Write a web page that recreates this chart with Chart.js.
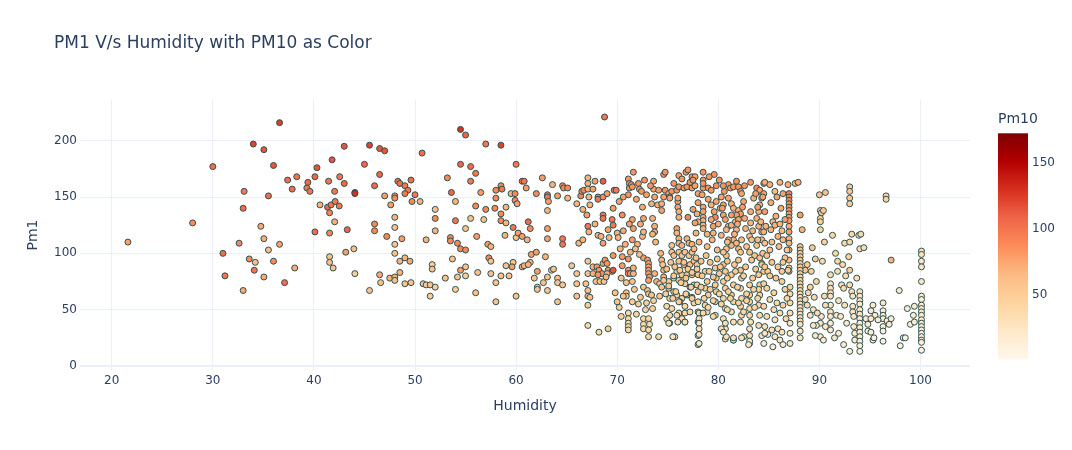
<!DOCTYPE html>
<html>
<head>
<meta charset="utf-8">
<script src="https://cdn.jsdelivr.net/npm/chart.js@4.4.1/dist/chart.umd.min.js"></script>
<style>
html,body{margin:0;padding:0;background:#fff;}
canvas{display:block;}
</style>
</head>
<body>
<canvas id="c" width="1072" height="450"></canvas>
<script>
// ---------------- DATA ----------------
const titleText = "PM1 V/s Humidity with PM10 as Color";
const xTitle = "Humidity";
const yTitle = "Pm1";
const cbTitle = "Pm10";
const xTickValues = [20, 30, 40, 50, 60, 70, 80, 90, 100];
const yTickValues = [0, 50, 100, 150, 200];
const cbTickValues = [50, 100, 150];

// Group A: humidity < 44.5
const humA = [
21.6,28,30,31,31.2,32.6,33,33.1,33,33.6,
34,34.1,34.2,34.75,35.05,35.05,35.05,35.5,35.5,36,
36,36.6,36.6,37.1,37.4,37.85,38.1,38.3,39.3,39.4,
39.6,40.1,40.1,40.3,40.6,41.35,41.45,41.55,41.55,41.55,
41.55,41.7,41.8,41.9,42.05,42.05,42.1,42.5,42.55,43,
43,43.15,43.3,43.95,44.05,44.05,44.05];
const pm1A = [
110,127,177,100,80,109,140,155,67,95,
197,85,92,124,192,113,79,151,103,178,
93,216,108,74,165,157,87,168,158,163,
155,168,119,176,143,141,164,136,118,97,
92,143,183,87,155,128,146,142,168,195,
162,101,121,104,82,154,153];
const pm10A = [
78,88,105,105,100,90,105,98,75,88,
122,100,65,75,115,72,72,105,62,115,
88,125,78,105,105,105,72,102,100,108,
100,108,105,115,70,108,100,92,90,60,
62,100,115,60,100,72,100,100,100,115,
108,80,108,62,50,135,130];

// Group B: humidity 44.5 - 60
const humB = [
45.5,46.5,47,45,46.5,46,48.3,48.5,49,49.6,
49.3,49,47,48,48,50,49.7,50.5,47.6,50.7,
48,48,46,46,47.2,48.7,48,48,49,48.5,
49.5,48.5,46.5,46.6,47.5,48,48,49,49.6,45.5,
51.1,52,52,52,51.7,51.7,50.8,51.1,51.5,52,
51.5,53,53.2,53.6,54,54,53.5,53.5,53.7,54.2,
54.5,55,54.5,54.2,55,55,54,54.5,55,54.5,
55.5,56,55.5,55,55.5,56,56.5,56.8,57,56.1,
57,58.5,57.2,57.5,57.3,57.5,56.2,57.5,58,58.5,
56,58,58,58.5,58.6,58,57.9,58.5,58.5,59,
59,58.9,59.5,59.9,59.9,59.7,60,59,59.3,59.7,
59.6,60,60];
const pm1B = [
196,193,191,179,170,160,164,162,160,165,
156,153,151,151,149,152,146,146,143,189,
132,123,126,120,115,113,108,100,96,93,
93,83,81,74,78,79,76,73,74,67,
112,139,131,120,90,86,73,72,72,70,
62,78,167,154,146,129,114,111,95,109,
104,103,85,79,88,80,68,210,205,179,
177,171,164,122,131,142,154,130,139,115,
197,196,108,106,96,93,83,82,74,80,
65,57,156,160,157,149,140,135,129,141,
127,116,153,153,147,123,114,89,80,92,
88,179,62];
const pm10B = [
122,115,115,108,108,105,105,105,100,105,
100,100,80,90,90,100,90,70,80,105,
70,60,90,90,90,80,60,60,70,70,
75,70,75,60,70,70,60,60,60,60,
70,60,90,70,50,60,60,50,60,50,
50,60,90,108,70,100,90,90,60,90,
90,90,80,60,60,50,50,130,108,108,
105,100,100,60,60,90,80,60,90,80,
100,122,80,70,90,60,60,60,60,60,
60,60,90,90,100,90,90,90,90,70,
70,70,70,90,90,100,60,60,60,60,
80,100,60];

// Group C: humidity 60 - 74.7
const humC = [
68.75,60.6,60.8,61,60.1,62,62.6,63.6,63.1,63.1,
64.1,63.2,63.1,64.6,64.7,65.1,65.1,66,66.4,66.5,
66.7,67.1,67.1,67.1,67.2,67.3,67.6,67.8,68.1,68.1,
68.6,68.6,69,69.7,69.9,69.6,70.2,67,66.6,68.6,
68.6,69.5,69.6,67.8,67.1,67.2,68.1,68.4,68.6,69.1,
69.2,70,70.1,61.2,61.4,60.2,60.6,61.1,63.1,63.1,
64.6,64.6,66.2,66.6,61.5,62,62.9,60.6,60.8,61.4,
61.2,62.1,61.8,62.1,62.1,63.1,62.7,63.1,63.5,63.7,
64.1,64.1,64.6,64.1,65.5,66,66,66,67.1,67.1,
66.9,67.1,67.1,67.1,67.3,67.6,67.6,68,68.2,68.5,
68.1,68.6,68.8,69,69.1,69.5,69.6,69.6,67.9,68.3,
68.7,69,68.9,69.8,70,69.1,68.2,67.1,70.5,70.5,
70.5,71.1,71.1,71.1,71.3,70.9,70.9,70.6,71.1,71.1,
71.1,71.1,71.1,71.5,71.6,71.6,71.5,71.6,71.5,71.1,
71.2,71.2,71.4,71.6,71.5,71.1,72.1,72.2,72.4,72.5,
72.6,72,72.5,72.6,72.6,73,73.1,73.1,73.1,73.1,
73.2,73.1,72.6,73,73.1,73.4,72.1,72.6,72.6,72.6,
73.1,73.2,73.1,73.1,74.1,73.6,73.6,73.7,73.4,74,
73.5,73.7,73.7,73.8,73.5,74.3,74.4,74.6,74.6,74.4,
74.4,73.7,73.9,74.2,74.4,74.6,74.6,73.5];
const pm1C = [
221,164,164,158,144,153,167,161,152,150,
151,146,138,160,158,158,149,144,151,155,
156,167,162,157,150,143,157,164,150,148,
164,150,153,156,156,140,146,134,139,134,
131,130,125,126,124,119,116,115,109,121,
114,118,114,128,122,118,115,112,122,113,
113,108,109,112,99,101,97,88,89,92,
90,84,78,70,68,79,74,67,85,86,
78,74,72,57,89,82,73,62,93,82,
73,67,62,54,61,88,82,88,85,82,
81,91,94,91,85,84,98,85,75,75,
75,82,79,65,57,33,30,36,89,97,
134,95,85,82,82,65,62,62,47,42,
38,35,32,75,82,87,112,122,130,166,
162,158,161,172,159,152,162,157,155,141,
131,108,115,119,96,94,91,88,85,82,
79,76,70,67,64,63,55,42,37,33,
42,37,32,26,26,164,157,150,144,143,
131,124,119,110,117,100,94,170,150,144,
138,82,75,73,70,79,85,51];
const pm10C = [
100,100,100,80,80,90,80,70,100,100,
80,80,70,90,90,90,70,70,90,90,
90,70,70,70,70,70,80,80,100,100,
112,90,80,100,100,80,80,80,70,100,
100,100,100,70,100,70,70,70,80,80,
70,70,70,105,90,80,80,70,80,80,
100,100,70,70,80,80,70,70,70,70,
70,80,60,60,60,60,60,60,60,60,
60,60,60,60,60,60,60,60,60,60,
60,60,60,50,60,70,70,85,85,85,
85,85,85,85,85,85,85,115,60,60,
60,70,70,60,60,50,40,40,80,80,
90,85,85,85,85,60,60,60,40,40,
40,40,40,60,70,70,80,80,80,85,
85,85,85,85,85,85,85,85,85,75,
80,70,70,70,80,80,80,80,80,80,
80,80,60,60,60,60,50,40,40,40,
40,40,40,40,40,78,78,78,72,72,
72,72,72,70,70,70,70,85,78,72,
80,70,70,60,60,70,70,50];

// Group D: humidity 74.7 - 77.7
const humD = [
74.75,76.1,76.8,77,77.4,74.75,75.1,75.4,75.9,76.1,
76.6,76.9,77.4,76,76,76.1,76.1,76,75.2,75.2,
77,75.9,75.9,76.1,76.1,76.4,76.9,77.1,77.4,75.4,
75.4,76.1,76.4,76.7,77.1,77.4,75.6,76.1,76.6,77.2,
77.6,75.9,76.4,76.9,77.4,75.6,75.1,76.1,76.7,77.2,
77.6,75.1,75.6,75.9,76.4,76.9,77.4,75.2,76.2,74.9,
75.4,76.1,76.7,77.6,74.9,75.2,76.4,76.7,75.7,76.7];
const pm1D = [
172,169,172,174,168,156,153,155,156,159,
158,159,158,146,141,137,132,149,150,149,
132,122,118,113,109,107,113,109,108,107,
101,101,98,101,98,101,98,93,90,90,
93,84,81,81,81,78,75,76,73,70,
72,69,66,63,60,63,61,60,57,53,
51,47,53,56,42,38,42,39,26,47];
const pm10D = [
85,78,85,85,85,85,78,85,85,85,
85,85,85,78,78,72,72,78,78,78,
90,80,70,70,70,70,70,70,70,60,
60,60,60,60,60,60,60,60,60,60,
60,55,55,55,55,50,50,50,50,50,
50,45,45,45,45,45,45,45,45,40,
40,40,40,40,35,35,35,35,30,40];

// Group E: humidity 77.7 - 84.6
const humE = [
78.5,78.5,78.5,78.5,79,79.3,77.7,77.7,78,78.4,
78.5,78.5,78.5,78.5,78.5,78.5,79.3,79.7,77.9,78,
77.7,79.5,79.5,80.5,80.5,80.7,81,81.3,81.7,81.8,
81,81.2,81.5,82,82.2,82.3,81,81.3,81.5,82,
82.2,81.8,82,81.5,81,81.3,81.8,82,82.2,80.8,
80.8,80.5,83.1,83.3,83.8,83.1,83.6,84.1,84.3,83.8,
84.1,84.3,84.1,84,83.8,84,84.3,83.5,84.5,82.5,
82.7,77.9,78,77.9,78,78,78,78,78,78.7,
78.9,78.7,79,78.7,78.9,79.7,79.8,79.7,79.8,79.7,
79.7,80.5,80.7,80.5,80.7,80.5,80.7,80.5,80.7,80.7,
81.3,81.5,81.3,81.5,81.3,81.5,81.5,82.2,82.3,82.2,
82.3,82.2,82.3,82.2,83.1,83.1,83.1,83.1,83.1,83.2,
83.1,83.1,83.1,84,84.1,84.1,84,84.1,84,84.3,
84.3,84.5,82.5,81.5,80.8,78,77.2,78.1,78.1,78.1,
78.1,78.1,78.1,75.5,75.2,75.9,76.7,76,75.1,78.5,
79.5,80.7,80.3,80.5,81.5,82.3,83.1,83,
77.2,77.5,79.8,80.1,79.6,80.3,80.6,79,79.8,80.2];
const pm1E = [
172,165,158,162,158,156,168,160,153,152,
141,137,132,129,125,122,143,132,135,128,
127,124,118,143,134,130,124,125,128,121,
161,158,159,159,155,153,149,144,140,138,
135,134,130,112,112,107,109,104,101,104,
98,101,115,112,107,101,98,96,91,158,
155,149,143,137,131,124,119,149,162,146,
122,90,81,72,66,57,48,39,27,84,
75,69,63,54,48,87,78,72,66,57,
45,90,84,75,69,60,51,42,33,24,
81,72,63,57,48,39,23,85,78,69,
60,53,45,39,72,63,57,51,45,39,
33,27,20,81,72,63,54,45,36,27,
90,84,26,23,26,19,48,47,42,38,
33,28,20,26,45,45,39,39,38,47,
44,38,33,30,25,25,22,19,
163,165,160,165,170,150,155,148,146,140];
const pm10E = [
85,85,85,85,85,85,78,78,78,78,
78,78,78,72,72,72,72,90,72,72,
80,80,70,80,80,80,70,70,70,70,
85,85,85,85,85,78,78,72,72,72,
80,80,80,70,70,70,70,70,60,60,
60,60,60,60,60,60,60,60,60,90,
78,78,72,72,72,70,70,72,78,78,
70,55,55,50,50,45,40,40,30,55,
55,50,50,45,40,60,55,50,50,45,
40,60,55,55,50,45,40,35,30,30,
55,50,45,45,40,35,30,60,55,50,
45,40,40,35,50,45,45,40,40,35,
30,30,25,55,50,45,40,40,35,30,
60,55,30,30,30,25,40,40,35,35,
30,30,25,30,40,40,35,35,35,40,
40,35,30,30,30,30,25,25,
85,85,85,85,85,78,85,78,78,72];

// Group F: humidity 84.5 - 94
const humF = [
84.6,85.1,86.1,86.9,87.6,87.9,84.1,84.5,85.6,86.4,
87,87,87,87,87,87,87,87,87,87,
87,87,87,87,87,87,87,85.4,85.6,86.6,
88.1,88.3,85.9,86.8,85.1,86.6,86.9,86.3,88.8,88.6,
84.6,84.5,84.3,84.6,88.1,88.1,88.1,88.1,88.1,88.1,
88.1,88.1,88.1,88.1,88.1,88.1,88.1,88.1,88.1,88.1,
88.1,88.1,88.1,88.1,88.1,88.1,88.1,88.1,88.1,88.1,
87.1,87.1,87.1,87.1,87.1,87.1,87.1,84.5,84.8,85.5,
85.1,85.8,84.5,85.5,86.1,84.8,85.6,84.6,85.3,85.9,
84.9,85.6,86.1,84.6,86.4,85.4,84.5,88.6,88.9,89.1,
89.4,88.8,90,90.6,90.1,90.2,90.1,90.1,90.4,90.1,
91.3,92.5,93,93.2,93.9,92.9,91.8,93,93,93,
93,93,91.1,91.1,91.1,91.1,91.1,91.1,91.1,91.1,
91.1,91.1,92.2,92.4,93,93.2,93.3,93.3,93.3,93.4,
93.4,93.5,93.5,90.2,90.1,90.6,89.7,89.4,90.1,90.4,
91.7,92.1,91.9,92.4,93];
const pm1F = [
163,161,163,161,162,163,156,153,155,153,
153,150,147,144,141,138,135,132,129,124,
119,113,109,103,94,87,84,128,125,130,
134,121,115,103,103,96,85,84,90,85,
137,119,112,109,106,103,100,97,94,91,
88,85,82,79,76,73,70,67,64,61,
58,55,52,49,46,43,40,37,31,25,
70,64,56,47,38,29,20,73,69,65,
59,56,53,50,47,44,41,35,32,33,
28,26,23,29,19,17,20,59,65,45,
50,54,152,154,138,136,131,128,138,121,
116,109,110,117,116,97,93,85,159,155,
149,144,81,73,69,65,62,54,48,44,
38,32,72,69,72,66,62,53,48,44,
35,29,23,44,38,35,36,36,26,23,
45,44,29,19,13];
const pm10F = [
72,72,72,72,72,72,78,78,65,78,
95,95,90,88,88,85,82,82,80,75,
80,70,70,70,65,60,60,70,70,80,
80,70,70,60,60,60,55,55,55,55,
80,70,70,60,60,60,55,55,55,50,
50,50,50,45,45,45,45,40,40,40,
40,35,35,35,30,30,30,30,25,25,
45,40,40,35,30,25,25,50,45,45,
40,40,40,35,35,35,30,30,30,30,
25,25,25,25,20,20,20,35,40,30,
30,35,60,60,55,55,50,50,55,45,
40,40,40,40,40,45,40,50,55,55,
55,50,35,30,30,30,30,25,25,25,
20,20,35,35,35,30,30,25,25,25,
20,20,20,25,25,20,25,25,20,20,
25,25,20,18,15];

// Group G: humidity 93.7 - 100
const humG = [
100.1,100.1,100.1,100.1,100.1,100.1,100.1,100.1,100.1,100.1,
100.1,100.1,100.1,100.1,100.1,100.1,100.1,100.1,100.1,100.1,
96.6,96.6,97.1,94.1,94,94.4,93.7,94,94,94,
94,94,94,94,94,94,94,94,94,94,
94,97.9,95.3,95.1,95.5,96.3,96.3,96.3,96.3,96.3,
96.3,96.3,96.7,96.9,97.1,95.8,94.6,95.1,94.8,94.8,
95.1,95.3,95.4,98,98.3,98.5,98.7,99,99.4,99.4,
99.3];
const pm1G = [
102,99,93,88,75,62,59,54,51,48,
45,41,38,35,32,29,26,23,21,14,
151,148,94,117,104,105,78,66,62,58,
55,50,46,42,38,34,30,26,22,18,
13,67,54,49,45,56,49,45,42,35,
31,22,40,37,42,41,42,42,37,31,
30,23,25,18,25,25,51,37,39,53,
45];
const pm10G = [
30,30,25,25,25,20,20,20,20,20,
20,18,18,18,15,15,15,12,12,10,
45,45,70,40,35,35,30,25,25,25,
20,20,20,18,18,18,15,15,15,12,
10,25,20,20,20,25,20,20,20,18,
15,12,18,18,20,18,18,18,18,15,
15,12,12,10,12,12,20,15,15,20,
18];

// Group H: extra points in the dense band (humidity 70 - 93)
const humH = [
70.3,70.8,71.3,71.8,72.2,70.6,71.2,72.3,70.4,70.9,
71.7,72.3,70.2,71.5,72.8,70.4,71.9,72.9,73.6,74.2,
74.5,74.9,75.3,75.7,76.2,76.6,77,77.4,74.6,75.1,
75.6,76.3,76.8,77.3,74.8,75.5,76.1,76.8,77.4,75.8,
77.8,78.3,78.8,79.2,79.9,80.2,80.9,81.6,82,82.7,
83.3,83.7,77.9,78.4,79.1,79.5,80.1,80.9,81.7,82.5,
83.4,84,78.3,79.2,80.1,81,81.9,82.8,83.5,78.6,
79.5,80.3,81.2,82,82.8,83.6,79,80.9,82.5,83.9,
77.6,78.1,78.9,79.4,79.9,80.3,80.9,81.6,82.3,82.8,
83.4,83.9,77.8,78.9,79.3,80,80.8,81.9,82.6,83.2,
77.5,78,79.6,80.4,81.3,82.4,83.2,83.9,84.2,84.4,
70.6,71.9,72.9,73.3,72.7,74.1,75.6,76.4,79.1,80.5,
81.8,82.6,83.2,83.7,84.4,85.8,85.2,86.2,85.7,86.3,
84.8,85.3,85.9,86.4,84.9,85.7,86.3,86.6,85.3,86,
86.4,84.7,85.2,86.1,84.6,85.1,86.8,86.4,86.7,86.3,
89.2,89.6,89.3,89.7,89.1,89.5,90.5,90.6,89.8,89.6,
90.5,90.3,91.6,91.8,92.3,92.6,91.9,92.5,92.7,91.5];
const pm1H = [
104,108,101,104,99,120,126,126,78,74,
68,61,52,57,50,44,46,56,58,62,
90,86,92,88,85,92,86,83,76,71,
80,74,78,70,64,60,57,64,60,66,
96,93,98,92,95,88,93,90,94,88,
94,86,86,80,84,79,82,78,84,80,
78,68,70,68,64,66,70,64,68,60,
58,55,60,56,58,52,52,50,48,60,
104,110,106,112,103,116,110,117,112,106,
120,112,118,117,130,126,121,126,131,127,
139,145,137,140,134,141,137,141,128,100,
150,148,152,160,165,156,162,166,168,160,
164,160,163,153,150,150,145,140,133,120,
98,92,88,92,84,78,75,68,110,106,
112,124,121,126,88,80,60,54,42,30,
84,95,105,75,70,61,62,54,47,27,
110,93,100,84,90,80,58,54,38,25];
const pm10H = [
70,70,70,65,65,75,80,75,60,60,
55,55,50,50,45,45,45,50,50,55,
60,60,60,60,55,60,55,55,55,55,
55,50,55,50,50,50,50,50,50,50,
60,60,60,60,60,55,60,55,60,55,
60,55,55,55,55,55,55,50,55,50,
50,50,50,50,45,50,50,45,45,45,
45,45,45,45,45,40,40,40,40,45,
65,70,65,70,65,70,65,70,65,60,
70,65,70,70,75,75,70,75,75,70,
80,80,80,80,80,80,75,80,70,60,
80,78,80,85,85,80,85,85,85,85,
85,85,85,80,80,78,75,75,72,65,
60,60,55,55,55,55,50,50,65,65,
65,70,70,70,55,50,45,45,40,30,
50,55,55,45,45,40,35,35,35,25,
45,40,40,35,40,35,30,30,25,25];

// ---------------- BUILD ----------------
const humidity = [].concat(humA, humB, humC, humD, humE, humF, humG, humH);
const pm1 = [].concat(pm1A, pm1B, pm1C, pm1D, pm1E, pm1F, pm1G, pm1H);
const pm10 = [].concat(pm10A, pm10B, pm10C, pm10D, pm10E, pm10F, pm10G, pm10H);

const cMin = 1.5, cMax = 172.7;
const orrd = [
  [0, [255,247,236]], [0.125, [254,232,200]], [0.25, [253,212,158]],
  [0.375, [253,187,132]], [0.5, [252,141,89]], [0.625, [239,101,72]],
  [0.75, [215,48,31]], [0.875, [179,0,0]], [1, [127,0,0]]
];
function colorFor(v) {
  let t = (v - cMin) / (cMax - cMin);
  t = Math.max(0, Math.min(1, t));
  for (let i = 1; i < orrd.length; i++) {
    if (t <= orrd[i][0]) {
      const [t0, c0] = orrd[i-1], [t1, c1] = orrd[i];
      const f = (t - t0) / (t1 - t0);
      const c = c0.map((a, k) => Math.round(a + (c1[k] - a) * f));
      return `rgb(${c[0]},${c[1]},${c[2]})`;
    }
  }
  return 'rgb(127,0,0)';
}

const n = Math.min(humidity.length, pm1.length, pm10.length);
const points = [];
const colors = [];
for (let i = 0; i < n; i++) {
  points.push({ x: humidity[i], y: pm1[i] });
  colors.push(colorFor(pm10[i]));
}

const textColor = '#2a3f5f';
const gridColor = '#EBF0F8';
const fontFamily = '"DejaVu Sans", Verdana, sans-serif';

const overlay = {
  id: 'overlay',
  afterDraw(chart) {
    const c = chart.ctx;
    const ca = chart.chartArea;
    c.save();
    c.fillStyle = textColor;
    c.textBaseline = 'middle';
    c.textAlign = 'left';
    c.font = '17px ' + fontFamily;
    c.fillText(titleText, 54, 44);
    c.font = '14px ' + fontFamily;
    c.textAlign = 'center';
    c.fillText(xTitle, (ca.left + ca.right) / 2, 406);
    c.save();
    c.translate(33, (ca.top + ca.bottom) / 2);
    c.rotate(-Math.PI / 2);
    c.fillText(yTitle, 0, 0);
    c.restore();
    // colorbar
    const top = 133.3, bottom = 359.3, left = 998, width = 30;
    const g = c.createLinearGradient(0, bottom, 0, top);
    orrd.forEach(([t, rgb]) => g.addColorStop(t, `rgb(${rgb[0]},${rgb[1]},${rgb[2]})`));
    c.fillStyle = g;
    c.fillRect(left, top, width, bottom - top);
    c.fillStyle = textColor;
    c.font = '12px ' + fontFamily;
    c.textAlign = 'left';
    cbTickValues.forEach(v => {
      const y = bottom - (v - cMin) / (cMax - cMin) * (bottom - top);
      c.fillText(String(v), 1032, y);
    });
    c.font = '14px ' + fontFamily;
    c.fillText(cbTitle, 998, 119);
    c.restore();
  }
};

function draw() {
  Chart.defaults.font.family = fontFamily;
  Chart.defaults.font.size = 12;
  Chart.defaults.color = textColor;
  new Chart(document.getElementById('c'), {
    type: 'scatter',
    data: {
      datasets: [{
        data: points,
        pointBackgroundColor: colors,
        pointBorderColor: '#2f4f4f',
        pointBorderWidth: 1,
        pointRadius: 3,
        pointHoverRadius: 3
      }]
    },
    options: {
      responsive: false,
      animation: false,
      devicePixelRatio: 1,
      events: [],
      layout: { padding: { top: 100, right: 102, bottom: 0, left: 0 } },
      plugins: { legend: { display: false }, tooltip: { enabled: false }, title: { display: false } },
      scales: {
        x: {
          type: 'linear',
          min: 16.86, max: 104.9,
          afterFit: s => { s.height = 80; },
          afterBuildTicks: s => { s.ticks = xTickValues.map(v => ({ value: v })); },
          ticks: { padding: 4, color: textColor, font: { size: 12 } },
          grid: { color: gridColor, lineWidth: 1, drawTicks: false },
          border: { display: false }
        },
        y: {
          type: 'linear',
          min: -3.55, max: 236.1,
          afterFit: s => { s.width = 80; },
          afterBuildTicks: s => { s.ticks = yTickValues.map(v => ({ value: v })); },
          ticks: { padding: 3, color: textColor, font: { size: 12 } },
          grid: { color: gridColor, lineWidth: ctx => (ctx.tick && ctx.tick.value === 0 ? 2 : 1), drawTicks: false },
          border: { display: false }
        }
      }
    },
    plugins: [overlay]
  });
}

if (document.fonts && document.fonts.load) {
  Promise.all([
    document.fonts.load('12px "DejaVu Sans"'),
    document.fonts.load('17px "DejaVu Sans"')
  ]).then(draw, draw);
} else {
  draw();
}
</script>
</body>
</html>
